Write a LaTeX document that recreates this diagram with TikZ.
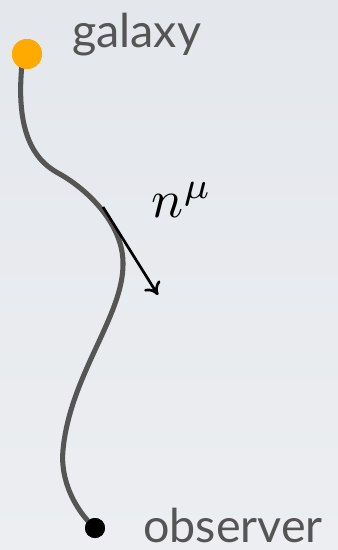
\documentclass[tikz,border=0pt]{standalone}
\usepackage{fontspec}
\setmainfont{Lato}
\usetikzlibrary{arrows.meta}
\definecolor{txtcol}{RGB}{85,85,85}
\definecolor{pathcol}{RGB}{85,85,85}
\definecolor{galcol}{RGB}{254,170,0}
\tikzset{
  lbl/.style={text=txtcol, font=\fontsize{35}{38}\selectfont, inner sep=0pt, anchor=base west},
  dot/.style={circle, inner sep=0pt, minimum size=#1},
  ray/.style={draw=pathcol, line width=3.8pt},
  vec/.style={draw=black, line width=2pt, -{To[length=9pt,width=14pt,line width=2pt]}}
}
\begin{document}
\begin{tikzpicture}[x=0.75pt,y=-0.75pt]
\path[top color={rgb,255:red,228;green,231;blue,236}, bottom color={rgb,255:red,236;green,238;blue,241}] (0,0) rectangle (338,550);
\useasboundingbox (0,0) rectangle (338,550);
\node[dot=15pt, fill=black] (observer) at (95,528) {};
\node[dot=22.5pt, fill=galcol] (galaxy) at (27,54) {};
\coordinate (gstart) at (22,64);
\coordinate (p1) at (58,173);
\coordinate (p2) at (123,263);
\coordinate (p3) at (63,450);
\draw[ray] (gstart) .. controls (16,125) and (30,158) .. (p1)
  .. controls (89,190) and (123,225) .. (p2)
  .. controls (124,315) and (70,375) .. (p3)
  .. controls (60,480) and (75,510) .. (observer.center);
\node[dot=22.5pt, fill=galcol] at (galaxy) {};
\node[dot=15pt, fill=black] at (observer) {};
\node[lbl] (galtxt) at (72,47) {galaxy};
\node[lbl] (obstxt) at (143,542) {observer};
\coordinate (a0) at (103,207);
\coordinate (a1) at (158,295);
\draw[vec] (a0) -- (a1);
\node[inner sep=0pt, scale=4] (nmu) at (182,200) {$n^\mu$};
\end{tikzpicture}
\end{document}
